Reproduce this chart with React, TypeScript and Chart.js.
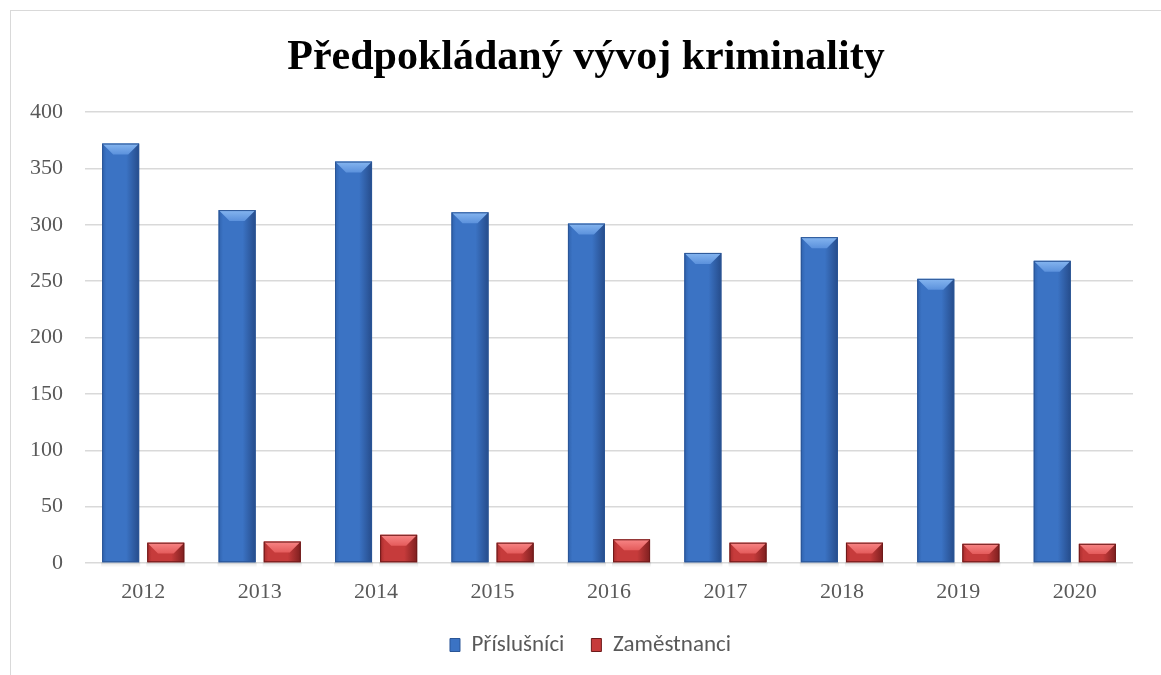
import React, { useEffect, useRef } from "react";
import { Chart, registerables } from "chart.js";

Chart.register(...registerables);

const categories = ["2012", "2013", "2014", "2015", "2016", "2017", "2018", "2019", "2020"];
const prislusnici = [372, 313, 356, 311, 301, 275, 289, 252, 268];
const zamestnanci = [18, 19, 25, 18, 21, 18, 18, 17, 17];
const yTicks = [0, 50, 100, 150, 200, 250, 300, 350, 400];
const titleText = "Předpokládaný vývoj kriminality";
const seriesNames = ["Příslušníci", "Zaměstnanci"];

const palettes = [
  { edgeL: "#2f62ad", mid: "#3b73c4", edgeR: "#264c8b", bevTop: "#86b6f0", bevBot: "#5b91dc", line: "#2a5596" },
  { edgeL: "#a82c2c", mid: "#c63b3b", edgeR: "#7e1f1f", bevTop: "#f88686", bevBot: "#e45b5b", line: "#6e1a1a" },
];

const centerBlocksPlugin = {
  id: "centerBlocks",
  afterLayout(chart: any) {
    const tb = chart.titleBlock;
    if (tb) {
      tb.left = 11;
      tb.right = 1161;
      tb.width = 1150;
    }
    const lg = chart.legend;
    if (lg) {
      lg.left = 20;
      lg.right = 1161;
      lg.width = 1141;
    }
  },
};

const bevelPlugin = {
  id: "bevel",
  afterDatasetsDraw(chart: any) {
    const ctx = chart.ctx;
    chart.data.datasets.forEach((_ds: any, di: number) => {
      const meta = chart.getDatasetMeta(di);
      const p = palettes[di];
      meta.data.forEach((bar: any) => {
        const w = bar.width;
        const l = bar.x - w / 2;
        const r = bar.x + w / 2;
        const t = bar.y;
        const b = bar.base;
        const h = b - t;
        ctx.save();
        const sg = ctx.createLinearGradient(0, b, 0, b + 5);
        sg.addColorStop(0, "rgba(0,0,0,0.12)");
        sg.addColorStop(1, "rgba(0,0,0,0)");
        ctx.fillStyle = sg;
        ctx.fillRect(l - 1, b, w + 2, 5);
        const g = ctx.createLinearGradient(l, 0, r, 0);
        g.addColorStop(0, p.edgeL);
        g.addColorStop(0.12, p.mid);
        g.addColorStop(0.65, p.mid);
        g.addColorStop(1, p.edgeR);
        ctx.fillStyle = g;
        ctx.fillRect(l, t, w, h);
        const bv = Math.min(11, h * 0.55);
        const gt = ctx.createLinearGradient(0, t, 0, t + bv);
        gt.addColorStop(0, p.bevTop);
        gt.addColorStop(1, p.bevBot);
        ctx.fillStyle = gt;
        ctx.beginPath();
        ctx.moveTo(l, t);
        ctx.lineTo(r, t);
        ctx.lineTo(r - bv, t + bv);
        ctx.lineTo(l + bv, t + bv);
        ctx.closePath();
        ctx.fill();
        ctx.strokeStyle = p.line;
        ctx.lineWidth = 1;
        ctx.strokeRect(l + 0.5, t + 0.5, w - 1, h - 1);
        ctx.restore();
      });
    });
  },
};

export default function App() {
  const ref = useRef<HTMLCanvasElement | null>(null);
  useEffect(() => {
    if (!ref.current) return;
    const chart = new Chart(ref.current, {
      type: "bar",
      data: {
        labels: categories,
        datasets: [
          {
            label: seriesNames[0],
            data: prislusnici,
            backgroundColor: "#3b73c4",
            borderColor: "#2a5596",
            borderWidth: 1,
            categoryPercentage: 0.775,
            barPercentage: 0.82,
          },
          {
            label: seriesNames[1],
            data: zamestnanci,
            backgroundColor: "#c63b3b",
            borderColor: "#6e1a1a",
            borderWidth: 1,
            categoryPercentage: 0.775,
            barPercentage: 0.82,
          },
        ],
      },
      options: {
        animation: false,
        responsive: false,
        maintainAspectRatio: false,
        layout: { padding: { left: 0, right: 28, top: 0, bottom: 8.5 } },
        plugins: {
          title: {
            display: true,
            text: titleText,
            color: "#000000",
            font: { family: "'Liberation Serif', 'Times New Roman', serif", size: 42, weight: "bold", lineHeight: 1.2 },
            padding: { top: 33, bottom: 28.6 },
          },
          legend: {
            display: true,
            position: "bottom",
            labels: {
              boxWidth: 10,
              boxHeight: 13,
              padding: 27,
              color: "#595959",
              font: { family: "Carlito, Lato, 'Open Sans', sans-serif", size: 23 },
            },
          },
          tooltip: { enabled: false },
        },
        scales: {
          x: {
            grid: { display: false, drawTicks: false },
            border: { display: false },
            ticks: {
              color: "#595959",
              padding: 16,
              font: { family: "'Liberation Serif', 'Times New Roman', serif", size: 22, lineHeight: 1.2 },
            },
            afterFit: (s: any) => {
              s.height = 43.5;
            },
          },
          y: {
            min: 0,
            max: 400,
            afterBuildTicks: (s: any) => {
              s.ticks = yTicks.map((v) => ({ value: v }));
            },
            grid: { color: "#d9d9d9", lineWidth: 1.5, drawTicks: false },
            border: { display: false },
            ticks: {
              color: "#595959",
              padding: 22,
              font: { family: "'Liberation Serif', 'Times New Roman', serif", size: 22, lineHeight: 1.2 },
            },
            afterFit: (s: any) => {
              s.width = 85;
            },
          },
        },
      },
      plugins: [centerBlocksPlugin, bevelPlugin],
    } as any);
    return () => chart.destroy();
  }, []);

  return (
    <div style={{ position: "fixed", left: 0, top: 0, width: 1161, height: 675, overflow: "hidden", background: "#ffffff" }}>
      <div
        style={{
          position: "absolute",
          left: 10,
          top: 10,
          width: 1200,
          height: 720,
          borderLeft: "1.5px solid #d9d9d9",
          borderTop: "1.5px solid #d9d9d9",
          boxSizing: "border-box",
        }}
      />
      <canvas ref={ref} width={1161} height={675} style={{ position: "absolute", left: 0, top: 0, width: 1161, height: 675 }} />
    </div>
  );
}
